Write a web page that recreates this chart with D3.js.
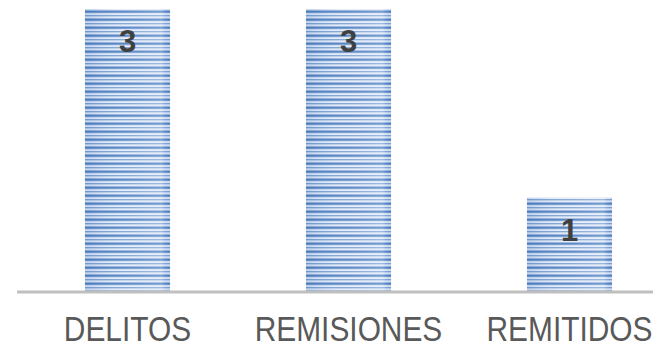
<!DOCTYPE html>
<html><head><meta charset="utf-8">
<script src="https://cdn.jsdelivr.net/npm/d3@7"></script>
<style>html,body{margin:0;padding:0;background:#fff;}svg{display:block;}</style>
</head><body>
<script>
const categories = ["DELITOS", "REMISIONES", "REMITIDOS"];
const values = [3, 3, 1];
const valueLabels = ["3", "3", "1"];

const W = 653, H = 344;
const svg = d3.select("body").append("svg").attr("width", W).attr("height", H);
const defs = svg.append("defs");

// stripe pattern
const pat = defs.append("pattern").attr("id", "stripes").attr("patternUnits", "userSpaceOnUse")
  .attr("width", 10).attr("height", 8).attr("y", 1);
const rows = [
  ["#e2eaf6", 0, 1], ["#94b4de", 1, 1], ["#4a7bbf", 2, 1], ["#6c96cf", 3, 1],
  ["#d0def1", 4, 1], ["#e4ecf7", 5, 1], ["#7aa0d4", 6, 1], ["#bccfeb", 7, 1]
];
rows.forEach(r => pat.append("rect").attr("x", 0).attr("y", r[1]).attr("width", 10).attr("height", r[2]).attr("fill", r[0]));

const grad = defs.append("linearGradient").attr("id", "sheen").attr("x1", 0).attr("x2", 1).attr("y1", 0).attr("y2", 0);
grad.append("stop").attr("offset", "0%").attr("stop-color", "#3f6fb0").attr("stop-opacity", 0.18);
grad.append("stop").attr("offset", "45%").attr("stop-color", "#ffffff").attr("stop-opacity", 0.1);
grad.append("stop").attr("offset", "90%").attr("stop-color", "#ffffff").attr("stop-opacity", 0.25);
grad.append("stop").attr("offset", "100%").attr("stop-color", "#3f6fb0").attr("stop-opacity", 0.1);

const x = d3.scaleBand().domain(categories).range([17, 680]).paddingInner(0.615).paddingOuter(0.3075);
const y = d3.scaleLinear().domain([0, 3]).range([292, 9]);

const bars = svg.append("g").selectAll("g").data(categories).join("g");
bars.append("rect")
  .attr("x", d => x(d)).attr("width", x.bandwidth())
  .attr("y", (d, i) => y(values[i])).attr("height", (d, i) => y(0) - y(values[i]))
  .attr("fill", "url(#stripes)");
bars.append("rect")
  .attr("x", d => x(d)).attr("width", x.bandwidth())
  .attr("y", (d, i) => y(values[i])).attr("height", (d, i) => y(0) - y(values[i]))
  .attr("fill", "url(#sheen)");

// value labels
svg.append("g").selectAll("text").data(categories).join("text")
  .attr("x", d => x(d) + x.bandwidth() / 2)
  .attr("y", (d, i) => y(values[i]) + 43)
  .attr("text-anchor", "middle")
  .attr("font-family", "Liberation Sans, Arial, sans-serif")
  .attr("font-weight", "bold").attr("font-size", 31).attr("fill", "#404040")
  .text((d, i) => valueLabels[i]);

// axis
const axis = d3.axisBottom(x).tickSize(0).tickPadding(0);
const ag = svg.append("g").attr("transform", `translate(0,${y(0)})`).call(axis);
ag.select(".domain").attr("stroke", "#bfbfbf").attr("stroke-width", 3).attr("d", `M17,0H${W}`);
ag.selectAll(".tick text")
  .attr("x", 0).attr("y", 0).attr("dy", 0)
  .attr("transform", "translate(0,49) scale(0.83,1)")
  .attr("font-family", "Liberation Sans, Arial, sans-serif")
  .attr("font-size", 36).attr("fill", "#595959");
</script>
</body></html>
